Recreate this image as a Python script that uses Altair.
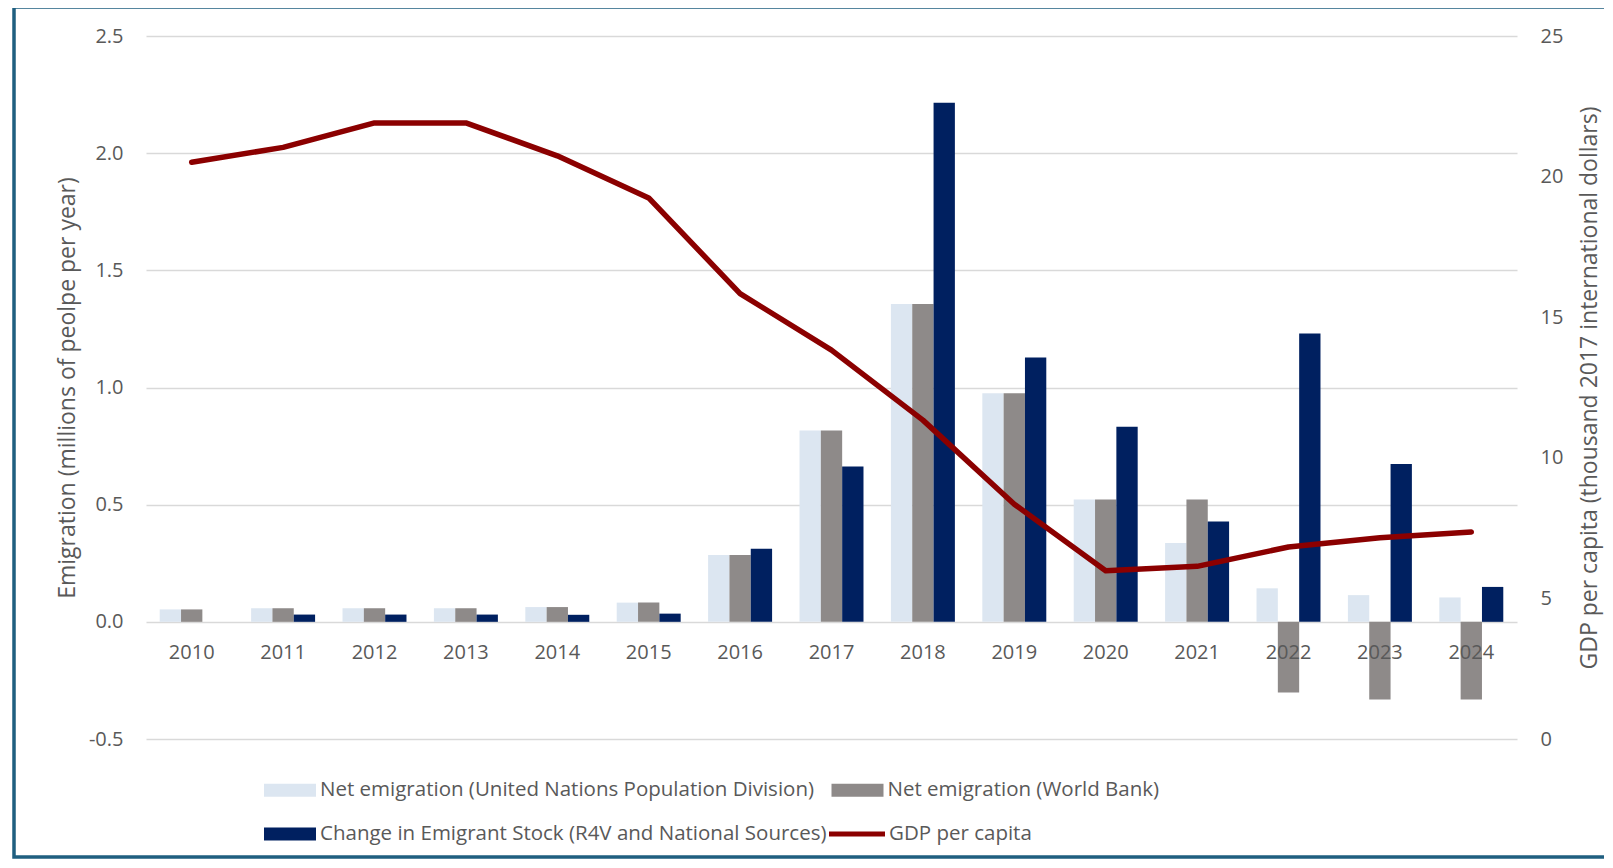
import altair as alt
import pandas as pd

# ---------------- data ----------------
years = [str(y) for y in range(2010, 2025)]
un_net = [0.053, 0.058, 0.058, 0.058, 0.063, 0.082, 0.285, 0.816, 1.356, 0.975,
          0.522, 0.336, 0.143, 0.114, 0.104]
wb_net = [0.053, 0.058, 0.058, 0.058, 0.063, 0.082, 0.285, 0.816, 1.356, 0.975,
          0.522, 0.522, -0.302, -0.331, -0.331]
stock_change = [None, 0.031, 0.031, 0.031, 0.030, 0.035, 0.312, 0.663, 2.215, 1.128,
                0.833, 0.428, 1.230, 0.674, 0.149]
gdp_pc = [20.51, 21.04, 21.91, 21.91, 20.74, 19.24, 15.84, 13.83, 11.34, 8.35,
          5.98, 6.14, 6.83, 7.16, 7.36]

bar_series = [
    "Net emigration (United Nations Population Division)",
    "Net emigration (World Bank)",
    "Change in Emigrant Stock (R4V and National Sources)",
]
bar_colors = ["#DCE6F1", "#8E8A89", "#002060"]
# legend fills column by column: order chosen so rows read UN | WB, then Stock
legend_order = [0, 2, 1]
line_series = ["GDP per capita"]
line_colors = ["#8B0000"]
left_ticks = [-0.5, 0.0, 0.5, 1.0, 1.5, 2.0, 2.5]
right_ticks = [0, 5, 10, 15, 20, 25]

# ---------------- tables ----------------
bar_rows = []
for name, vals in zip(bar_series, [un_net, wb_net, stock_change]):
    for y, v in zip(years, vals):
        bar_rows.append({"year": y, "series": name, "value": v})
bars_df = pd.DataFrame(bar_rows)
line_df = pd.DataFrame({"year": years, "series": line_series[0], "gdp": gdp_pc})
frame_df = pd.DataFrame({"k": [0]})

TXT = "#595959"
FONT = "Open Sans"
W, H = 1371, 703

fill_domain = [bar_series[i] for i in legend_order]
fill_range = [bar_colors[i] for i in legend_order]

bar_legend = alt.Legend(
    title=None, orient="none", legendX=118, legendY=741,
    columns=2, columnPadding=4.5, rowPadding=20, padding=0,
    symbolType="M-2,-0.5H2V0.5H-2Z", symbolSize=676, symbolOffset=13,
    labelOffset=17, symbolStrokeWidth=0,
    labelFont=FONT, labelFontSize=20.5, labelColor=TXT, labelLimit=1000,
)
line_legend = alt.Legend(
    title=None, orient="none", legendX=680.5, legendY=767.5, padding=0,
    symbolType="stroke", symbolSize=3136, symbolOffset=0, symbolStrokeWidth=5,
    labelOffset=1.5,
    labelFont=FONT, labelFontSize=20.5, labelColor=TXT, labelLimit=1000,
)

x_enc = alt.X(
    "year:N", sort=years,
    scale=alt.Scale(paddingInner=0.3, paddingOuter=0.15),
    axis=alt.Axis(title=None, domain=False, ticks=False, tickSize=0, labelAngle=0,
                  labelFontSize=20, labelColor=TXT, labelPadding=20.5,
                  offset=-117.17, zindex=1, grid=False),
)

bars = alt.Chart(bars_df).mark_bar().encode(
    x=x_enc,
    xOffset=alt.XOffset("series:N", sort=bar_series,
                        scale=alt.Scale(domain=bar_series, paddingInner=0, paddingOuter=0)),
    y=alt.Y(
        "value:Q",
        scale=alt.Scale(domain=[-0.5, 2.5], nice=False),
        axis=alt.Axis(
            values=left_ticks,
            labelExpr="datum.value < 0 ? '-' + format(-datum.value, '.1f') : format(datum.value, '.1f')",
            title="Emigration (millions of peolpe per year)",
            titleFontSize=23, titleFontWeight="normal", titleX=-79, titleBaseline="middle",
            domain=False, ticks=False, labelPadding=23, labelFontSize=20,
            grid=True, gridColor="#D9D9D9", gridWidth=1.5,
        ),
    ),
    fill=alt.Fill("series:N", scale=alt.Scale(domain=fill_domain, range=fill_range),
                  legend=bar_legend),
)

line = alt.Chart(line_df).mark_line(strokeWidth=5.5, strokeCap="round", strokeJoin="round").encode(
    x=alt.X("year:N", sort=years),
    y=alt.Y(
        "gdp:Q",
        scale=alt.Scale(domain=[0, 25], nice=False),
        axis=alt.Axis(
            orient="right", values=right_ticks, format="d",
            title="GDP per capita (thousand 2017  international dollars)",
            titleFontSize=23, titleFontWeight="normal", titleAngle=270, titleX=72,
            titleBaseline="middle",
            grid=False, domain=False, ticks=False, labelPadding=23, labelFontSize=20,
        ),
    ),
    stroke=alt.Stroke("series:N", scale=alt.Scale(domain=line_series, range=line_colors),
                      legend=line_legend),
)

frame = alt.Chart(frame_df).mark_rect(
    fillOpacity=0, stroke="#1F5F80", strokeWidth=3.5
).encode(
    x=alt.value(-132), x2=alt.value(W + 200),
    y=alt.value(-29), y2=alt.value(821),
)

chart = (
    alt.layer(frame, bars, line)
    .resolve_scale(y="independent")
    .properties(
        width=W, height=H,
        padding={"left": 138, "top": 28, "right": 87, "bottom": 121},
        autosize=alt.AutoSizeParams(type="none"),
    )
    .configure(font=FONT)
    .configure_axis(labelFont=FONT, titleFont=FONT, labelColor=TXT, titleColor=TXT,
                    titleFontWeight="normal")
    .configure_view(stroke=None)
)

chart.save("out.html", embed_options={"renderer": "svg", "actions": False})
